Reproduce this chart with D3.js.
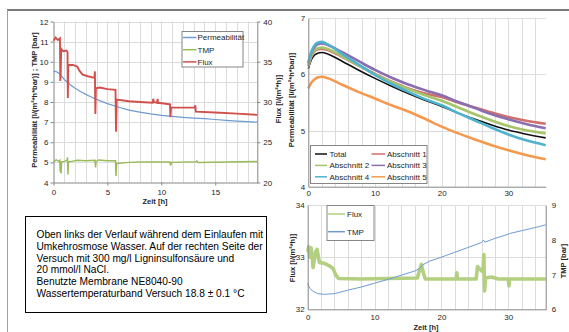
<!DOCTYPE html>
<html>
<head>
<meta charset="utf-8">
<script src="https://cdn.jsdelivr.net/npm/d3@7"></script>
<style>
  body { margin: 0; background: #fff; }
  text { font-family: "Liberation Sans", Arial, sans-serif; fill: #262626; }
  .axis path, .axis line { stroke: #868686; }
  .axis text { font-size: 8px; }
  .title { font-size: 7.5px; font-weight: bold; }
</style>
</head>
<body>
<svg id="chart" width="569" height="332"></svg>
<script>
// ---- left chart (Einlaufen mit UO-Wasser), [h, value] ----
const leftPerm = [[0,9.55],[0.3,9.5],[0.6,9.38],[1,9.12],[1.5,8.88],[2,8.68],[2.5,8.52],[3,8.38],[3.5,8.25],[4,8.13],[5,7.92],[6,7.75],[7,7.6],[8,7.5],[9,7.41],[10,7.34],[11,7.29],[12,7.24],[13,7.2],[14,7.17],[15,7.13],[16,7.09],[17,7.05],[18,7.02],[18.9,7.0]];
const leftTMP = [[0,5.02],[0.25,5.12],[0.5,5.05],[0.58,5.1],[0.62,4.55],[0.66,5.05],[0.7,4.45],[0.74,5.02],[1.0,5.05],[1.25,5.1],[1.3,5.25],[1.34,4.4],[1.38,5.02],[1.7,5.05],[2.2,5.1],[3.0,5.08],[3.85,5.1],[3.9,4.75],[3.95,5.05],[4.2,5.12],[5.0,5.08],[5.75,5.08],[5.8,4.32],[5.85,4.95],[7.0,5.0],[8,5.02],[10.8,5.02],[10.85,4.85],[10.95,5.0],[13.2,5.03],[13.3,5.07],[13.4,4.99],[18.9,5.04]];
const leftFlux = [[0,37.6],[0.2,38.0],[0.4,37.7],[0.6,37.9],[0.63,32.6],[0.67,33.6],[0.71,36.6],[0.9,36.3],[1.2,36.4],[1.3,36.2],[1.33,30.5],[1.37,34.6],[1.8,34.6],[2.2,34.4],[2.4,33.9],[2.7,33.4],[3.2,33.2],[3.8,33.0],[3.84,33.8],[3.88,28.5],[3.93,31.7],[4.3,31.8],[5.0,31.6],[5.75,31.5],[5.8,26.3],[5.86,30.3],[7,30.1],[8,30.0],[9.2,29.9],[9.25,30.4],[9.3,30.0],[9.6,29.9],[9.65,30.4],[9.7,29.9],[10.8,29.7],[10.84,28.1],[10.9,29.3],[13.1,29.3],[13.15,29.6],[13.2,28.8],[15,28.7],[17,28.55],[18.9,28.4]];
const leftNames = ['Permeabilität', 'TMP', 'Flux'];

// ---- right top chart: permeability per section ----
const rtHours = [0,0.5,1,1.5,2,3,5,7.5,10,12.5,15,17.5,20,22.5,25,27.5,30,32.5,35.6];
const rtTotal = [6.1,6.27,6.35,6.38,6.39,6.36,6.24,6.08,5.93,5.79,5.66,5.54,5.43,5.31,5.2,5.1,5.01,4.94,4.87];
const rtA1 = [6.15,6.33,6.42,6.45,6.46,6.43,6.32,6.16,6.01,5.87,5.75,5.66,5.6,5.5,5.41,5.32,5.24,5.18,5.12];
const rtA2 = [6.15,6.35,6.44,6.47,6.48,6.45,6.33,6.16,6.0,5.86,5.74,5.63,5.53,5.41,5.29,5.18,5.08,5.01,4.95];
const rtA3 = [6.2,6.4,6.5,6.54,6.55,6.52,6.4,6.24,6.08,5.94,5.82,5.72,5.63,5.51,5.4,5.29,5.2,5.12,5.04];
const rtA4 = [6.2,6.42,6.53,6.57,6.58,6.53,6.37,6.18,5.99,5.83,5.69,5.56,5.45,5.31,5.18,5.05,4.93,4.83,4.74];
const rtA5 = [5.75,5.86,5.92,5.95,5.96,5.93,5.82,5.69,5.57,5.45,5.34,5.21,5.07,4.95,4.84,4.74,4.65,4.57,4.49];
const rtNames = ['Total', 'Abschnitt 1', 'Abschnitt 2', 'Abschnitt 3', 'Abschnitt 4', 'Abschnitt 5'];
const rtColors = ['#111111', '#d0706c', '#a6c46a', '#8a6fb0', '#4fb3cf', '#f5994f'];

// ---- right bottom chart: flux and TMP, [h, value] ----
const bFlux = [[0,33.1],[0.15,33.2],[0.3,33.0],[0.5,33.18],[0.65,33.05],[0.8,32.8],[1.0,32.95],[1.2,33.1],[1.4,33.15],[1.6,33.0],[1.75,32.9],[2.5,32.88],[3.3,32.83],[3.8,32.78],[4.2,32.66],[4.6,32.59],[8,32.58],[12,32.59],[16.4,32.6],[16.7,32.74],[17,32.86],[17.3,32.7],[17.6,32.58],[22.2,32.58],[22.3,32.7],[22.4,32.58],[25.2,32.58],[25.4,32.82],[25.8,32.76],[26.2,32.72],[26.35,33.05],[26.45,32.35],[26.6,32.6],[27.5,32.62],[28.5,32.58],[30.0,32.58],[30.1,32.45],[30.2,32.58],[35.6,32.58]];
const bTMP = [[0,6.75],[0.3,6.6],[0.8,6.52],[1.5,6.45],[2.5,6.43],[4,6.45],[5,6.5],[6,6.55],[8,6.64],[10,6.75],[12,6.86],[14,6.98],[16,7.1],[16.8,7.18],[17.2,7.28],[18.2,7.38],[20,7.5],[22,7.64],[24,7.78],[26,7.92],[26.3,7.99],[26.5,7.93],[28,8.04],[30,8.16],[30.2,8.18],[32,8.26],[34,8.35],[35.6,8.43]];
const bNames = ['Flux', 'TMP'];

const noteLines = [
  'Oben links der Verlauf während dem Einlaufen mit',
  'Umkehrosmose Wasser. Auf der rechten Seite der',
  'Versuch mit 300 mg/l Ligninsulfonsäure und',
  '20 mmol/l NaCl.',
  'Benutzte Membrane NE8040-90',
  'Wassertemperaturband Versuch 18.8 ± 0.1 °C'
];

const svg = d3.select('#chart');
const fmt = d3.format('d');
svg.append('rect').attr('width', 569).attr('height', 332).attr('fill', '#fff');

// outer frame
svg.append('line').attr('x1', 7).attr('x2', 569).attr('y1', 10).attr('y2', 10)
  .attr('stroke', '#7a7a7a').attr('stroke-width', 2);
svg.append('line').attr('x1', 7.5).attr('x2', 7.5).attr('y1', 10).attr('y2', 332)
  .attr('stroke', '#a0a0a0');

function grid(g, x, y, xs, ys) {
  const [x0, x1] = x.range(), [y1, y0] = y.range();
  g.selectAll('.vg').data(xs).join('line')
    .attr('x1', d => Math.round(x(d)) + 0.5).attr('x2', d => Math.round(x(d)) + 0.5)
    .attr('y1', y0).attr('y2', y1).attr('stroke', '#dcdcdc');
  g.selectAll('.hg').data(ys).join('line')
    .attr('x1', x0).attr('x2', x1)
    .attr('y1', d => Math.round(y(d)) + 0.5).attr('y2', d => Math.round(y(d)) + 0.5)
    .attr('stroke', '#dcdcdc');
}

function vtitle(x, y, txt) {
  svg.append('text').attr('class', 'title')
    .attr('transform', `translate(${x},${y}) rotate(-90)`)
    .attr('text-anchor', 'middle').text(txt);
}

function legend(x, y, w, h, items) {
  const g = svg.append('g');
  g.append('rect').attr('x', x + 0.5).attr('y', y + 0.5).attr('width', w).attr('height', h)
    .attr('fill', '#fff').attr('stroke', '#868686');
  items.forEach(it => {
    g.append('line').attr('x1', it.lx0).attr('x2', it.lx1).attr('y1', it.y).attr('y2', it.y)
      .attr('stroke', it.color).attr('stroke-width', 1.5);
    g.append('text').attr('x', it.tx).attr('y', it.y + 2.8).style('font-size', '8px').text(it.name);
  });
}

// ================= left chart =================
const xL = d3.scaleLinear().domain([0, 18.9]).range([53.5, 257.3]);
const yL = d3.scaleLinear().domain([4, 12]).range([182.5, 21.5]);
const yLr = d3.scaleLinear().domain([20, 40]).range([182.5, 21.5]);
const gL = svg.append('g');
grid(gL, xL, yL, d3.range(1, 19), d3.range(5, 13));

svg.append('g').attr('class', 'axis').attr('transform', 'translate(53.5,0)')
  .call(d3.axisLeft(yL).tickValues(d3.range(4, 13)).tickFormat(fmt).tickSize(3).tickPadding(2).tickSizeOuter(0));
svg.append('g').attr('class', 'axis').attr('transform', 'translate(257.3,0)')
  .call(d3.axisRight(yLr).tickValues([20, 25, 30, 35, 40]).tickFormat(fmt).tickSize(3).tickPadding(3).tickSizeOuter(0));
svg.append('g').attr('class', 'axis').attr('transform', 'translate(0,182.5)')
  .call(d3.axisBottom(xL).tickValues([0, 5, 10, 15]).tickFormat(fmt).tickSize(3).tickPadding(4).tickSizeOuter(0));

const lineL = d3.line().x(d => xL(d[0])).y(d => yL(d[1]));
const lineLr = d3.line().x(d => xL(d[0])).y(d => yLr(d[1]));
svg.append('path').datum(leftPerm).attr('d', lineL).attr('fill', 'none')
  .attr('stroke', '#6f9bd3').attr('stroke-width', 1.2);
svg.append('path').datum(leftTMP).attr('d', lineL).attr('fill', 'none')
  .attr('stroke', '#9bbb59').attr('stroke-width', 1.5);
svg.append('path').datum(leftFlux).attr('d', lineLr).attr('fill', 'none')
  .attr('stroke', '#d0504d').attr('stroke-width', 1.9);

vtitle(37, 100, 'Permeabilität [l/(m²*h*bar)] ; TMP [bar]');
vtitle(281, 99, 'Flux [l/(m²*h)]');
svg.append('text').attr('class', 'title').attr('x', 155).attr('y', 204)
  .attr('text-anchor', 'middle').text('Zeit [h]');

legend(181.5, 31, 61, 35.5, leftNames.map((n, i) => ({
  name: n, color: ['#6f9bd3', '#9bbb59', '#d0504d'][i],
  lx0: 183, lx1: 196.5, tx: 197.5, y: 37.5 + i * 12.2
})));

// ================= right top chart =================
const xR = d3.scaleLinear().domain([0, 35.6]).range([308.3, 545.7]);
const yR = d3.scaleLinear().domain([4, 7]).range([186.7, 18.3]);
const gR = svg.append('g');
grid(gR, xR, yR, d3.range(2, 35, 2), [5, 6, 7]);

const rtSeries = [rtTotal, rtA1, rtA2, rtA3, rtA4, rtA5];
const lineR = d3.line().x((d, i) => xR(rtHours[i])).y(d => yR(d)).curve(d3.curveMonotoneX);
rtSeries.forEach((s, k) => {
  svg.append('path').datum(s).attr('d', lineR).attr('fill', 'none')
    .attr('stroke', rtColors[k]).attr('stroke-width', k === 0 ? 1.6 : 2.6);
});

svg.append('g').attr('class', 'axis').attr('transform', 'translate(308.3,0)')
  .call(d3.axisLeft(yR).tickValues([4, 5, 6, 7]).tickFormat(fmt).tickSize(0).tickPadding(3).tickSizeOuter(0));
svg.append('g').attr('class', 'axis').attr('transform', 'translate(0,186.7)')
  .call(d3.axisBottom(xR).tickValues([0, 10, 20, 30]).tickFormat(fmt).tickSize(0).tickPadding(4).tickSizeOuter(0));

vtitle(294, 100, 'Permeabilität [l/(m²*h*bar)]');

legend(310, 145, 116.5, 38, rtNames.map((n, i) => {
  const col = i % 2 === 0 ? 0 : 1, row = Math.floor(i / 2);
  return {
    name: n, color: rtColors[i],
    lx0: col ? 371.5 : 315, lx1: col ? 385 : 327, tx: col ? 387 : 329.5, y: 154 + row * 11.4
  };
}));

// ================= right bottom chart =================
const xB = d3.scaleLinear().domain([0, 35.6]).range([307.7, 545.7]);
const yB = d3.scaleLinear().domain([32, 34]).range([309.3, 205]);
const yBr = d3.scaleLinear().domain([6, 9]).range([309.3, 205]);
const gB = svg.append('g');
grid(gB, xB, yB, d3.range(2, 35, 2), [33, 34]);

svg.append('path').datum(bFlux).attr('d', d3.line().x(d => xB(d[0])).y(d => yB(d[1])))
  .attr('fill', 'none').attr('stroke', '#b3cf80').attr('stroke-width', 3.6).attr('stroke-linejoin', 'round');
svg.append('path').datum(bTMP).attr('d', d3.line().x(d => xB(d[0])).y(d => yBr(d[1])))
  .attr('fill', 'none').attr('stroke', '#6f9bd3').attr('stroke-width', 1);

svg.append('g').attr('class', 'axis').attr('transform', 'translate(307.7,0)')
  .call(d3.axisLeft(yB).tickValues([32, 33, 34]).tickFormat(fmt).tickSize(0).tickPadding(3).tickSizeOuter(0));
svg.append('g').attr('class', 'axis').attr('transform', 'translate(545.7,0)')
  .call(d3.axisRight(yBr).tickValues([6, 7, 8, 9]).tickFormat(fmt).tickSize(0).tickPadding(6).tickSizeOuter(0));
svg.append('g').attr('class', 'axis').attr('transform', 'translate(0,309.3)')
  .call(d3.axisBottom(xB).tickValues([0, 10, 20, 30]).tickFormat(fmt).tickSize(0).tickPadding(5).tickSizeOuter(0));

vtitle(295, 258, 'Flux [l/(m²*h)]');
vtitle(566, 261, 'TMP [bar]');
svg.append('text').attr('class', 'title').attr('x', 426).attr('y', 329.5)
  .attr('text-anchor', 'middle').text('Zeit [h]');

legend(326.5, 205, 47, 35, bNames.map((n, i) => ({
  name: n, color: ['#b3cf80', '#6f9bd3'][i],
  lx0: 328, lx1: 345, tx: 347, y: 214 + i * 17.7
})));

// ================= note box =================
svg.append('rect').attr('x', 25.5).attr('y', 216.5).attr('width', 241).attr('height', 96)
  .attr('fill', '#fff').attr('stroke', '#000');
svg.append('g').selectAll('text').data(noteLines).join('text')
  .attr('x', 36.5).attr('y', (d, i) => 238 + i * 11.8)
  .style('font-size', '10.2px').style('fill', '#000').text(d => d);
</script>
</body>
</html>
